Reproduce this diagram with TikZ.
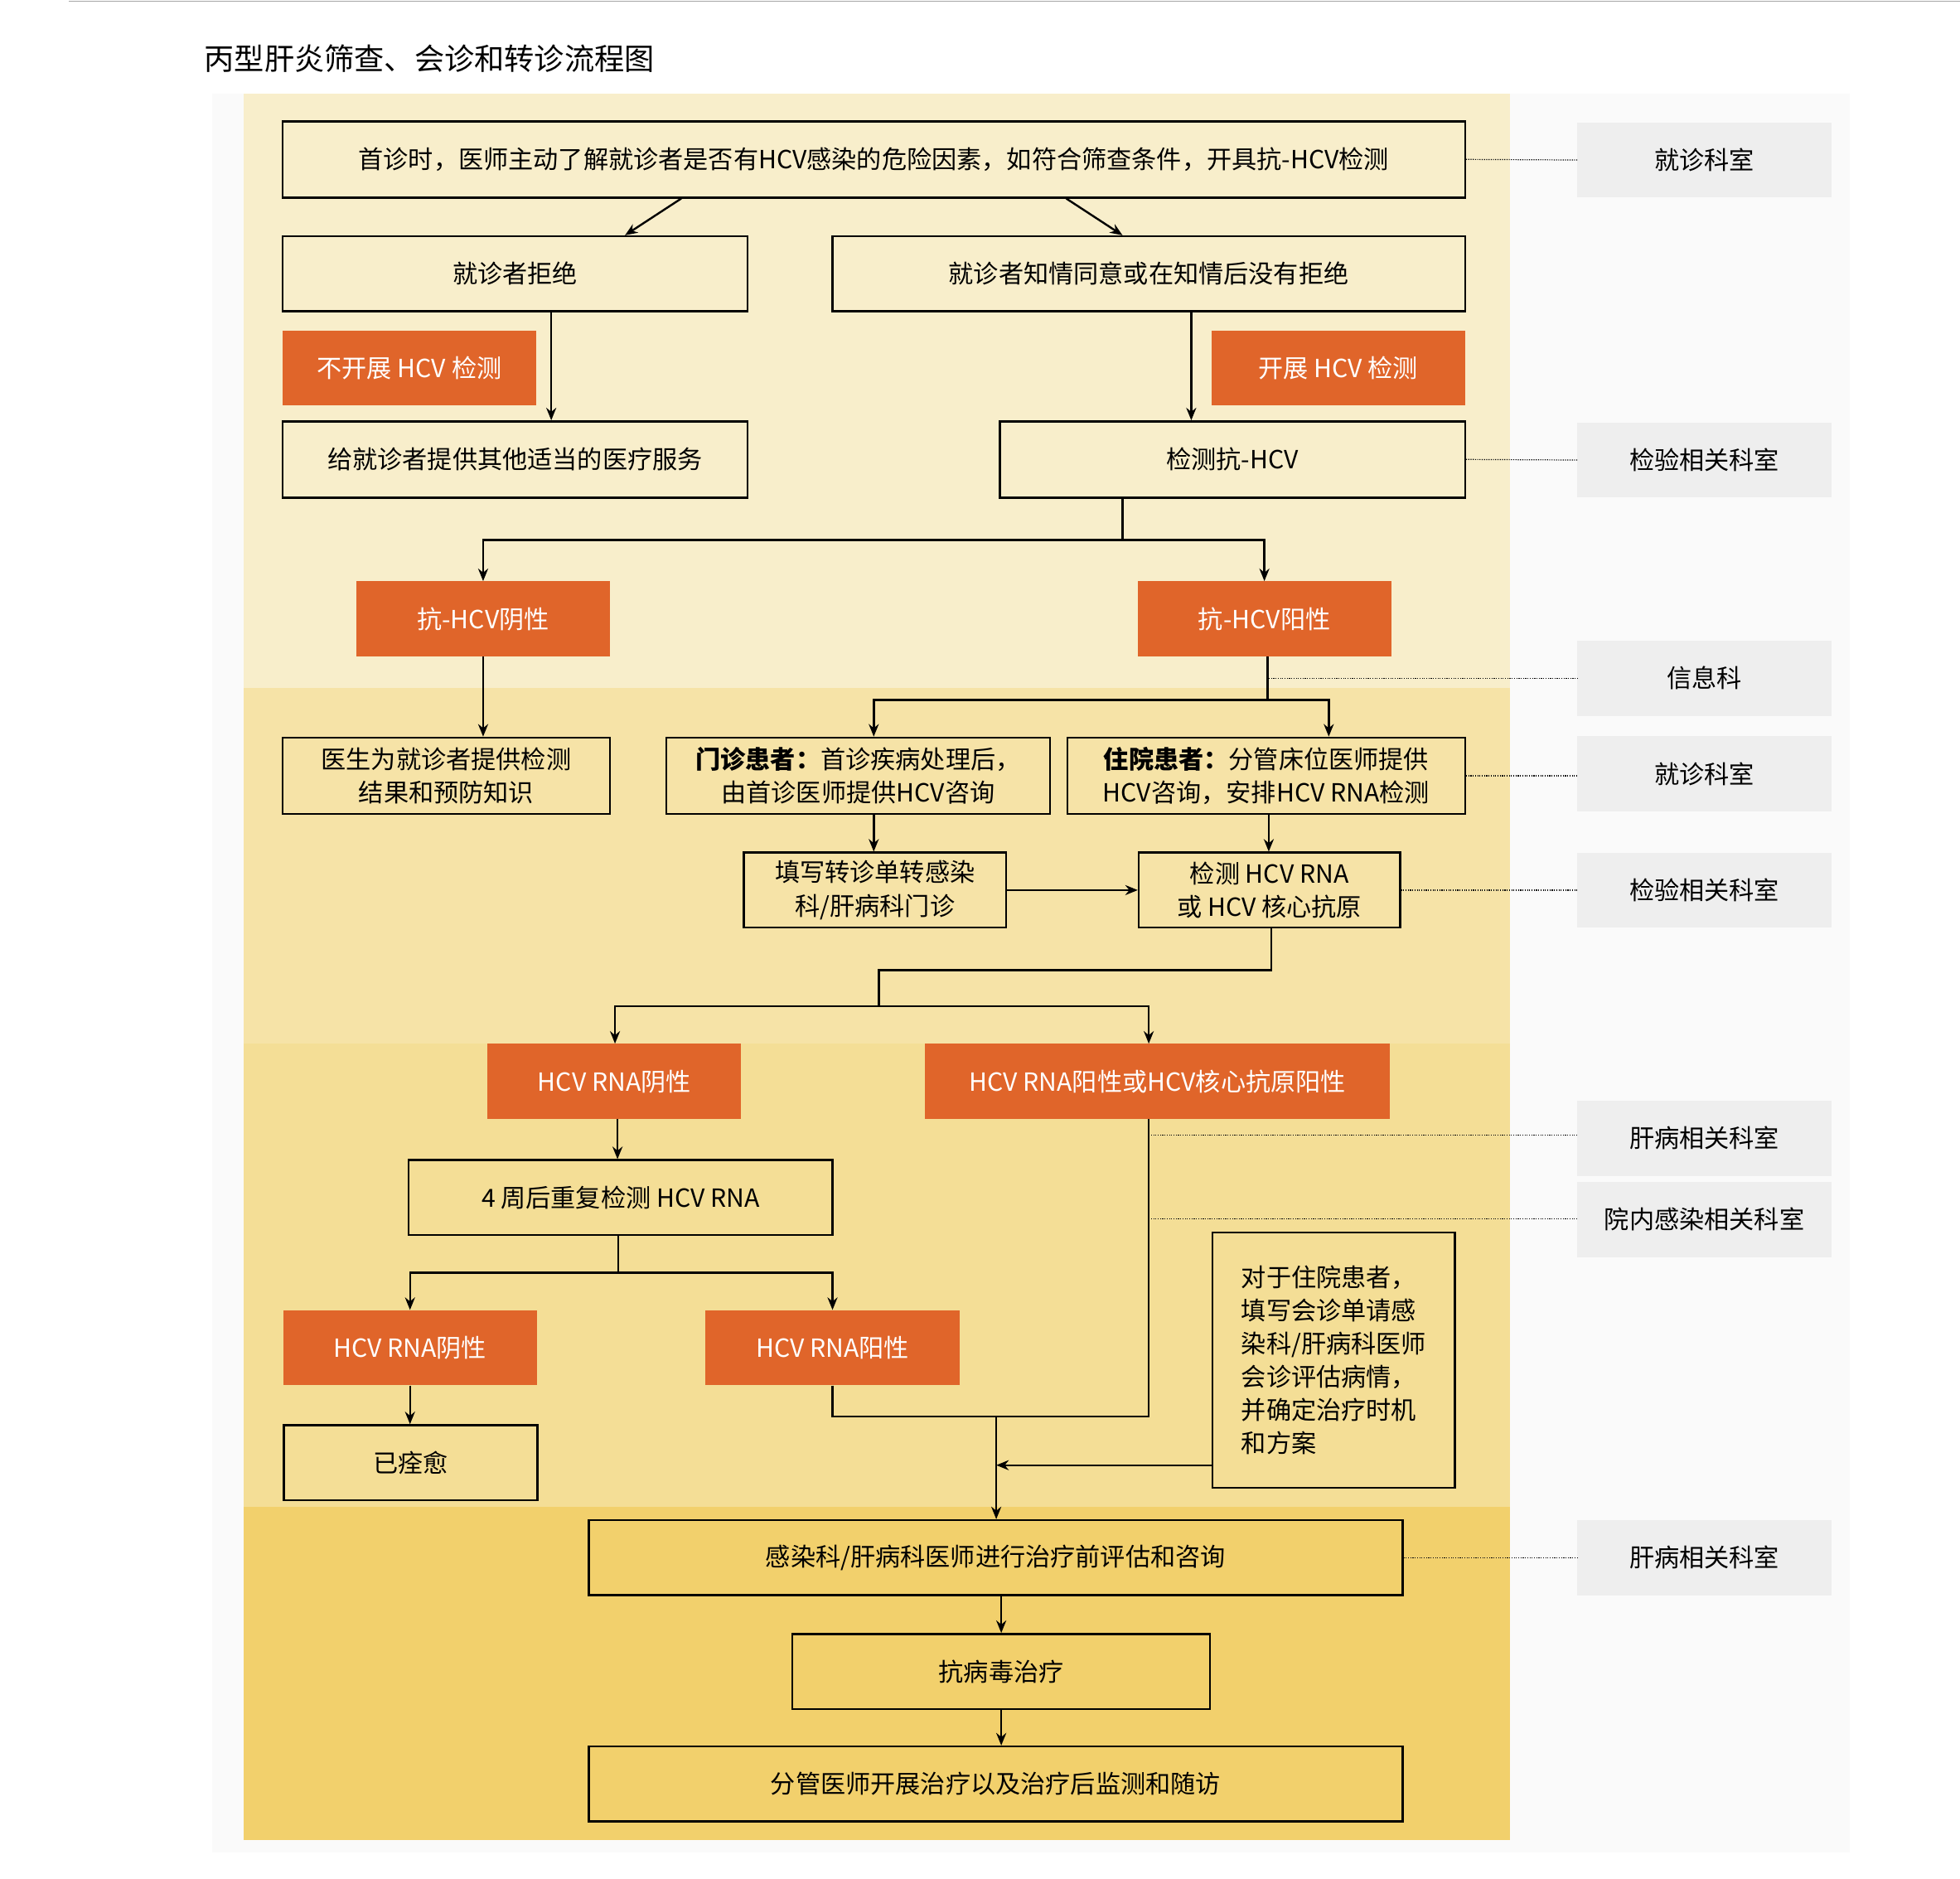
\documentclass[tikz,border=0pt]{standalone}
\usepackage{fontspec}
\setmainfont{Noto Sans CJK SC}
\usetikzlibrary{arrows.meta}
\definecolor{bandA}{HTML}{F8EECB}
\definecolor{bandB}{HTML}{F6E3A7}
\definecolor{bandC}{HTML}{F4DE96}
\definecolor{bandD}{HTML}{F2D06C}
\definecolor{org}{HTML}{E0652A}
\definecolor{gbox}{HTML}{EEEEEE}
\definecolor{side}{HTML}{FAFAFA}
\tikzset{
 box/.style={draw=black,line width=1.6pt,font=\fontsize{20}{27}\selectfont,align=center,inner sep=0pt},
 obox/.style={fill=org,text=white,font=\fontsize{20}{27}\selectfont,minimum width=203,minimum height=60,inner sep=0pt},
 gray/.style={fill=gbox,font=\fontsize{20}{27}\selectfont,minimum width=203,minimum height=60,inner sep=0pt},
 arr/.style={line width=1.6pt,-{Stealth[length=10pt,width=8pt]}},
 ln/.style={line width=1.6pt},
 dot/.style={densely dotted,gray,line width=0.8pt}
}
\begin{document}
\begin{tikzpicture}[x=1pt,y=1pt]
\useasboundingbox (0,0) rectangle (1568,-1503);
\fill[white] (0,0) rectangle (1568,-1503);
\draw[gray!70,line width=1pt] (55,-1) -- (1568,-1);
\node[anchor=west,font=\fontsize{24}{28}\selectfont] (title) at (160,-47) {丙型肝炎筛查、会诊和转诊流程图};
\fill[side] (170,-75) rectangle (1480,-1482);
\fill[bandA] (195,-75) rectangle (1208,-550);
\fill[bandB] (195,-550) rectangle (1208,-835);
\fill[bandC] (195,-835) rectangle (1208,-1205);
\fill[bandD] (195,-1205) rectangle (1208,-1472);
% nodes
\node[box,minimum width=946,minimum height=61] (n1) at (699,-127.5) {首诊时，医师主动了解就诊者是否有HCV感染的危险因素，如符合筛查条件，开具抗-HCV检测};
\node[box,minimum width=372,minimum height=60] (n2) at (412,-219) {就诊者拒绝};
\node[box,minimum width=506,minimum height=60] (n3) at (919,-219) {就诊者知情同意或在知情后没有拒绝};
\node[obox] (o1) at (327.5,-294.5) {不开展 HCV 检测};
\node[obox] (o2) at (1070.5,-294.5) {开展 HCV 检测};
\node[box,minimum width=372,minimum height=61] (n4) at (412,-367.5) {给就诊者提供其他适当的医疗服务};
\node[box,minimum width=372,minimum height=61] (n5) at (986,-367.5) {检测抗-HCV};
\node[obox] (o3) at (386.5,-495) {抗-HCV阴性};
\node[obox] (o4) at (1011.5,-495) {抗-HCV阳性};
\node[box,minimum width=262,minimum height=61] (n6) at (357,-620.5) {医生为就诊者提供检测\\结果和预防知识};
\node[box,minimum width=307,minimum height=61] (n7) at (686.5,-620.5) {\textbf{门诊患者：}首诊疾病处理后，\\由首诊医师提供HCV咨询};
\node[box,minimum width=318,minimum height=61] (n8) at (1013,-620.5) {\textbf{住院患者：}分管床位医师提供\\HCV咨询，安排HCV RNA检测};
\node[box,minimum width=210,minimum height=60] (n9) at (700,-712) {填写转诊单转感染\\科/肝病科门诊};
\node[box,minimum width=209,minimum height=60] (n10) at (1015.5,-712) {检测 HCV RNA\\或 HCV 核心抗原};
\node[obox] (o5) at (491.5,-865) {HCV RNA阴性};
\node[obox,minimum width=372] (o6) at (926,-865) {HCV RNA阳性或HCV核心抗原阳性};
\node[box,minimum width=339,minimum height=60] (n11) at (496.5,-958) {4 周后重复检测 HCV RNA};
\node[obox] (o7) at (328,-1078) {HCV RNA阴性};
\node[obox] (o8) at (666,-1078) {HCV RNA阳性};
\node[box,minimum width=203,minimum height=60] (n12) at (328.5,-1170) {已痊愈};
\node[box,minimum width=194,minimum height=204,align=left,font=\fontsize{20}{26.5}\selectfont] (n13) at (1067,-1088) {对于住院患者，\\填写会诊单请感\\染科/肝病科医师\\会诊评估病情，\\并确定治疗时机\\和方案};
\node[box,minimum width=651,minimum height=60] (n14) at (796.5,-1246) {感染科/肝病科医师进行治疗前评估和咨询};
\node[box,minimum width=334,minimum height=60] (n15) at (801,-1337) {抗病毒治疗};
\node[box,minimum width=651,minimum height=60] (n16) at (796.5,-1427) {分管医师开展治疗以及治疗后监测和随访};
% gray
\node[gray] (g1) at (1363.5,-128) {就诊科室};
\node[gray] (g2) at (1363.5,-368) {检验相关科室};
\node[gray] (g3) at (1363.5,-542.5) {信息科};
\node[gray] (g4) at (1363.5,-619) {就诊科室};
\node[gray] (g5) at (1363.5,-712) {检验相关科室};
\node[gray] (g6) at (1363.5,-910.5) {肝病相关科室};
\node[gray] (g7) at (1363.5,-975.5) {院内感染相关科室};
\node[gray] (g8) at (1363.5,-1246) {肝病相关科室};
% arrows
\draw[arr] ([xshift=-154]n1.south) -- ([xshift=88]n2.north);
\draw[arr] ([xshift=154]n1.south) -- ([xshift=-21]n3.north);
\draw[arr] ([xshift=29]n2.south) -- ([xshift=29]n4.north);
\draw[arr] ([xshift=34]n3.south) -- ([xshift=-33]n5.north);
\coordinate (s1) at (898,-432);
\draw[ln] ([xshift=-88]n5.south) -- (s1);
\draw[arr] (s1) -| (o3.north);
\draw[arr] (s1) -| (o4.north);
\draw[arr] (o3.south) -- ([xshift=29.5]n6.north);
\coordinate (s2) at (1014,-560);
\draw[ln] ([xshift=2.5]o4.south) -- (s2);
\draw[arr] (s2) -| ([xshift=12.5]n7.north);
\draw[arr] (s2) -| ([xshift=50]n8.north);
\draw[arr] ([xshift=12.5]n7.south) -- ([xshift=-1]n9.north);
\draw[arr] ([xshift=2]n8.south) -- ([xshift=-0.5]n10.north);
\draw[arr] (n9.east) -- (n10.west);
\coordinate (s3) at (703,-805);
\draw[ln] ([xshift=1.5]n10.south) |- (703,-776) -- (s3);
\draw[arr] (s3) -| ([xshift=0.5]o5.north);
\draw[arr] (s3) -| ([xshift=-7]o6.north);
\draw[arr] ([xshift=2.5]o5.south) -- ([xshift=-2.5]n11.north);
\coordinate (s4) at (494.5,-1018);
\draw[ln] ([xshift=-2]n11.south) -- (s4);
\draw[arr] (s4) -| (o7.north);
\draw[arr] (s4) -| (o8.north);
\draw[arr] (o7.south) -- ([xshift=-0.5]n12.north);
\coordinate (m) at (797,-1133);
\draw[ln] (o8.south) |- (m);
\draw[ln] ([xshift=-7]o6.south) |- (m);
\draw[arr] (m) -- ([xshift=0.5]n14.north);
\draw[arr] (n13.west |- 0,-1172) -- (797,-1172);
\draw[arr] ([xshift=4.5]n14.south) -- (n15.north);
\draw[arr] (n15.south) -- ([xshift=4.5]n16.north);
% dotted
\draw[dot] (n1.east) -- (g1.west);
\draw[dot] (n5.east) -- (g2.west);
\draw[dot] (1015,-542.5) -- (g3.west);
\draw[dot] (n8.east) -- (g4.west |- n8.east);
\draw[dot] (n10.east) -- (g5.west);
\draw[dot] (919,-908) -- (g6.west |- 0,-908);
\draw[dot] (919,-975) -- (g7.west |- 0,-975);
\draw[dot] (n14.east) -- (g8.west);
\end{tikzpicture}
\end{document}
